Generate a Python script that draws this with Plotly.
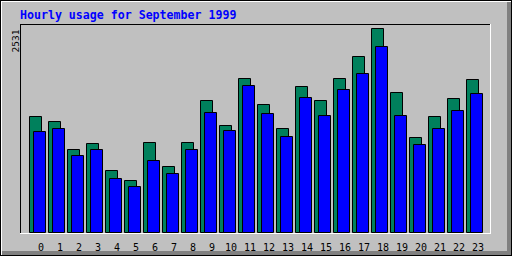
import plotly.graph_objects as go

hours = list(range(24))
hour_labels = [str(h) for h in hours]
hits = [1434, 1371, 1022, 1097, 761, 636, 1110, 810, 1110, 1633, 1322, 1908,
        1583, 1284, 1808, 1633, 1908, 2182, 2531, 1733, 1172, 1434, 1658, 1895]
files = [1247, 1284, 948, 1022, 661, 561, 885, 723, 1022, 1484, 1259, 1820,
         1471, 1184, 1671, 1446, 1770, 1970, 2307, 1446, 1085, 1284, 1509, 1721]
title_text = "Hourly usage for September 1999"

W, H = 512, 256
L, R, T, B = 20, 490, 24, 233  # plot box in pixels
PW, PH = R - L, B - T

def xp(px):
    return (px - L) / PW

def yp(py):
    return (B - py) / PH

GRAY = "#C0C0C0"
GREEN = "#00805C"
BLUE = "#0000FF"

fig = go.Figure()
fig.add_trace(go.Bar(x=hours, y=hits, offset=-11 / 19, width=12 / 19,
                     marker=dict(color=GREEN, line=dict(color="black", width=1)),
                     name="Hits"))
fig.add_trace(go.Bar(x=hours, y=files, offset=-7 / 19, width=12 / 19,
                     marker=dict(color=BLUE, line=dict(color="black", width=1)),
                     name="Files"))

x0 = -21 / 19
x1 = x0 + PW / 19
scale = max(hits) / 203.2
y0 = -0.5 * scale
y1 = y0 + PH * scale


def rect(px0, py0, px1, py1, color):
    return dict(type="rect", xref="paper", yref="paper",
                x0=xp(px0), x1=xp(px1), y0=yp(py0), y1=yp(py1),
                fillcolor=color, line=dict(width=0), layer="above")


shapes = [
    # outer frame
    rect(0, 0, 512, 1, "black"),
    rect(0, 0, 1, 256, "black"),
    rect(511, 0, 512, 256, "black"),
    rect(0, 255, 512, 256, "black"),
    rect(1, 1, 511, 2, "white"),
    rect(1, 1, 2, 255, "white"),
    rect(507, 2, 511, 255, "#808080"),
    rect(2, 251, 511, 255, "#808080"),
    # plot box
    rect(L, T, R + 1, T + 1, "black"),
    rect(L, T, L + 1, B + 1, "black"),
    rect(R, T, R + 1, B + 1, "white"),
    rect(L, B, R + 1, B + 1, "white"),
]

fig.update_layout(
    width=W, height=H,
    margin=dict(l=L, r=W - R, t=T, b=H - B, pad=0, autoexpand=False),
    paper_bgcolor=GRAY, plot_bgcolor=GRAY,
    barmode="overlay", showlegend=False, bargap=0,
    shapes=shapes,
    xaxis=dict(range=[x0, x1], tickmode="array", tickvals=hours, ticktext=hour_labels,
               showgrid=False, zeroline=False, showline=False,
               ticks="outside", ticklen=5, tickcolor="rgba(0,0,0,0)",
               automargin=False,
               tickfont=dict(family="DejaVu Sans Mono", size=10, color="black"),
               fixedrange=True),
    yaxis=dict(range=[y0, y1], showgrid=False, zeroline=False, showline=False,
               showticklabels=False, ticks="", fixedrange=True, automargin=False),
    annotations=[
        dict(text=title_text, xref="paper", yref="paper", x=xp(18), y=yp(15),
             xanchor="left", yanchor="middle", showarrow=False,
             font=dict(family="DejaVu Sans Mono", size=11.6, color=BLUE, weight="bold")),
        dict(text=str(max(hits)), xref="paper", yref="paper", x=xp(15), y=yp(28),
             xanchor="center", yanchor="top", textangle=-90, showarrow=False,
             font=dict(family="DejaVu Sans Mono", size=9.5, color="black")),
    ],
)

fig.write_html("out.html", config={"displayModeBar": False})
